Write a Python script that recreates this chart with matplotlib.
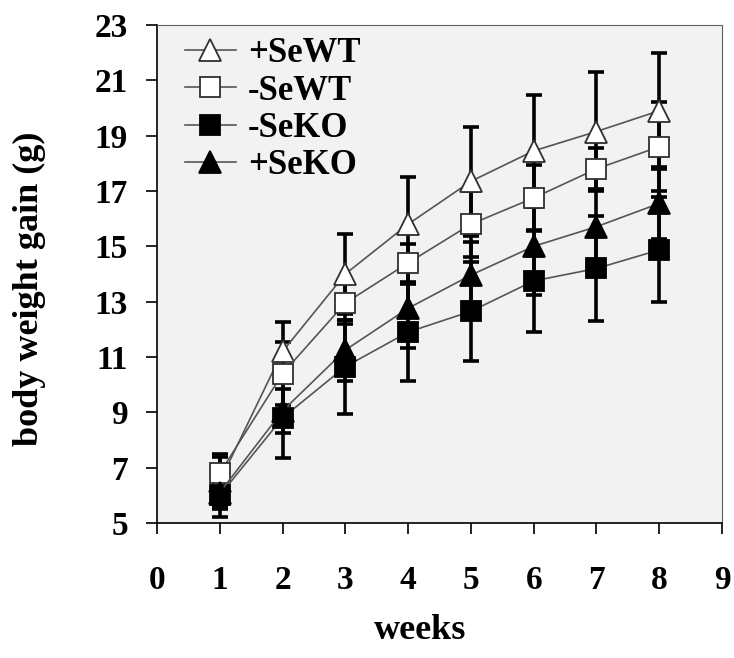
import matplotlib
matplotlib.use('Agg')
import matplotlib.pyplot as plt

plt.rcParams['font.family'] = ['Liberation Serif', 'DejaVu Serif']
plt.rcParams['font.weight'] = 'bold'

weeks = [1, 2, 3, 4, 5, 6, 7, 8]

wt_plus = [6.5, 11.2, 14.0, 15.8, 17.35, 18.45, 19.15, 19.9]
wt_plus_err = [0.9, 1.07, 1.45, 1.7, 1.97, 2.02, 2.15, 2.1]

wt_minus = [6.8, 10.4, 12.95, 14.4, 15.8, 16.75, 17.8, 18.6]
wt_minus_err = [0.7, 1.15, 0.75, 0.7, 1.2, 1.2, 0.75, 1.6]

ko_minus = [6.0, 8.8, 10.65, 11.9, 12.65, 13.75, 14.2, 14.87]
ko_minus_err = [0.8, 1.46, 1.7, 1.75, 1.8, 1.84, 1.9, 1.9]

ko_plus = [6.1, 9.05, 11.25, 12.76, 13.96, 15.0, 15.71, 16.55]
ko_plus_err = [0.6, 0.8, 1.1, 1.45, 1.2, 1.75, 1.35, 1.3]

xticks = [0, 1, 2, 3, 4, 5, 6, 7, 8, 9]
yticks = [5, 7, 9, 11, 13, 15, 17, 19, 21, 23]

fig = plt.figure(figsize=(7.34, 6.58), dpi=100)
ax = fig.add_axes([0.2139, 0.2052, 0.7698, 0.7568])
ax.set_facecolor('#f2f2f2')

series = [
    ('+SeWT', wt_plus, wt_plus_err, '^', 'white', 16),
    ('-SeWT', wt_minus, wt_minus_err, 's', 'white', 14),
    ('-SeKO', ko_minus, ko_minus_err, 's', 'black', 14),
    ('+SeKO', ko_plus, ko_plus_err, '^', 'black', 16),
]

# error bars go under every marker
for name, y, e, m, fc, ms in series:
    ax.errorbar(weeks, y, yerr=e, fmt='none', ecolor='black', elinewidth=2.6,
                capsize=5.5, capthick=2.6, zorder=2)

for name, y, e, m, fc, ms in series:
    ax.plot(weeks, y, color='#555555', lw=1.2, marker=m, ms=ms, mfc=fc,
            mec='#303030' if fc == 'white' else 'black', mew=1.3,
            label=name, zorder=3)

ax.set_xlim(0, 9)
ax.set_ylim(5, 23)
ax.set_xticks(xticks)
ax.set_yticks(yticks)
ax.tick_params(direction='out', length=8, width=1.2, labelsize=24)
ax.tick_params(axis='x', pad=22)
ax.tick_params(axis='y', pad=13)
for lab in ax.get_xticklabels() + ax.get_yticklabels():
    lab.set_fontweight('bold')

ax.spines['left'].set_color('black')
ax.spines['bottom'].set_color('black')
ax.spines['left'].set_linewidth(1.2)
ax.spines['bottom'].set_linewidth(1.2)
ax.spines['top'].set_color('#606060')
ax.spines['right'].set_color('#606060')

ax.set_ylabel('body weight gain (g)', fontsize=26, fontweight='bold')
ax.set_xlabel('weeks', fontsize=26, fontweight='bold')
ax.yaxis.set_label_coords(-0.197, 0.47)
ax.xaxis.label.set_va('center')
ax.xaxis.set_label_coords(0.465, -0.215)

leg = ax.legend(loc='upper left', bbox_to_anchor=(0.05, 0.975), frameon=False,
                fontsize=25, handlelength=1.45, handletextpad=0.35,
                labelspacing=0.12, borderaxespad=0, borderpad=0)
for t in leg.get_texts():
    t.set_fontweight('bold')

fig.savefig('out.png', dpi=100)
